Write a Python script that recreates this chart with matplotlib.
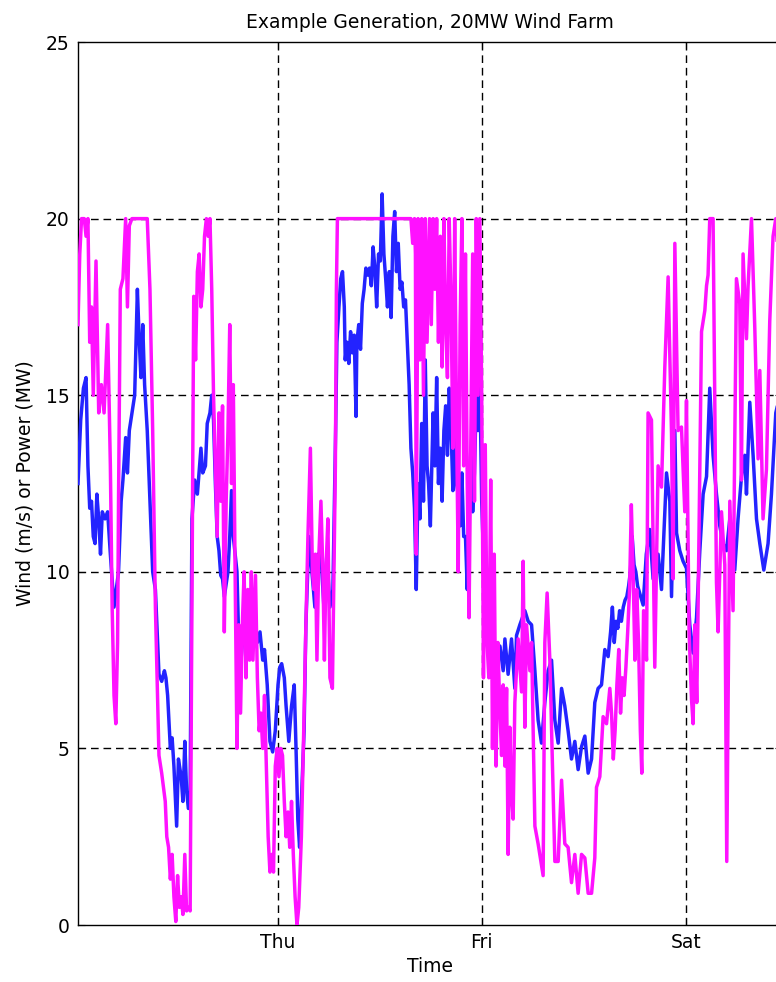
import numpy as np
import matplotlib
matplotlib.use("Agg")
import matplotlib.pyplot as plt

# hours since Wed 00:00
wind_hours = [0.47, 0.79, 1.11, 1.42, 1.64, 1.85, 2.06, 2.27, 2.48, 2.69, 2.91, 3.12, 3.33, 3.65, 3.96,
              4.28, 4.71, 5.24, 5.55, 5.76, 6.08, 6.29, 6.51, 6.82, 7.14, 7.46, 7.67, 7.88, 8.09, 8.31,
              8.62, 8.94, 9.26, 9.58, 10.0, 10.32, 10.64, 10.82, 11.02, 11.34, 11.55, 11.76, 12.08, 12.29,
              12.61, 12.82, 13.04, 13.25, 13.46, 13.67, 13.88, 14.2, 14.52, 14.94, 15.15, 15.47, 15.68,
              16.0, 16.21, 16.42, 16.64, 16.85, 17.06, 17.27, 17.48, 17.69, 18.12, 18.33, 18.54, 18.75,
              19.18, 19.39, 19.6, 19.92, 20.24, 20.55, 20.87, 21.26, 21.58, 21.89, 22.21, 22.42, 22.74,
              23.06, 23.38, 23.69, 24.01, 24.22, 24.44, 24.75, 24.96, 25.28, 25.6, 25.92, 26.13, 26.34,
              26.55, 26.76, 27.08, 27.29, 27.65, 28.0, 28.35, 28.71, 29.06, 29.41, 29.76, 30.12, 30.47,
              30.79, 30.94, 31.18, 31.39, 31.6, 31.81, 31.92, 32.13, 32.34, 32.55, 32.76, 32.98, 33.19,
              33.29, 33.51, 33.72, 33.93, 34.14, 34.35, 34.56, 34.78, 34.99, 35.2, 35.41, 35.62, 35.84,
              36.05, 36.26, 36.47, 36.68, 36.89, 37.11, 37.32, 37.53, 37.74, 37.95, 38.16, 38.38, 38.59,
              38.8, 39.01, 39.22, 39.44, 39.65, 39.86, 40.07, 40.28, 40.49, 40.71, 40.92, 41.13, 41.34,
              41.55, 41.73, 41.94, 42.26, 42.47, 42.68, 42.89, 43.11, 43.32, 43.53, 43.74, 43.95, 44.16,
              44.38, 44.59, 44.8, 45.01, 45.22, 45.44, 45.65, 45.86, 46.07, 46.28, 46.49, 46.71, 46.92,
              47.13, 47.34, 47.55, 47.76, 47.98, 48.29, 48.61, 48.82, 49.04, 49.25, 49.46, 49.67, 49.88,
              50.12, 50.51, 50.71, 51.09, 51.49, 51.88, 52.08, 52.47, 53.06, 53.45, 53.85, 54.24, 54.62,
              55.02, 55.41, 55.8, 56.2, 56.59, 56.98, 57.38, 57.76, 58.15, 58.55, 58.94, 59.33, 59.73,
              60.12, 60.51, 60.91, 61.29, 61.68, 62.08, 62.47, 62.86, 63.15, 63.36, 63.58, 63.79, 64.0,
              64.21, 64.42, 64.64, 64.85, 65.06, 65.27, 65.48, 65.69, 65.91, 66.12, 66.33, 66.98, 67.35,
              67.76, 68.15, 68.74, 69.14, 69.73, 70.12, 70.32, 70.71, 70.91, 71.29, 71.68, 72.08, 72.47,
              72.86, 73.26, 73.65, 74.04, 74.44, 74.82, 75.21, 75.61, 76.0, 76.39, 76.79, 77.18, 77.76,
              78.15, 78.55, 78.94, 79.14, 79.53, 79.92, 80.32, 80.71, 81.18, 81.68, 82.08, 82.59, 83.06]
wind_ms = [12.5, 14.3, 15.2, 15.5, 13.0, 11.8, 12.0, 11.0, 10.8, 12.2, 11.5, 10.5, 11.7, 11.5, 11.7,
           10.5, 9.0, 10.0, 12.0, 12.6, 13.8, 12.8, 14.0, 14.5, 15.0, 18.0, 16.6, 15.5, 17.0, 15.3,
           14.0, 12.0, 10.0, 9.5, 7.1, 6.9, 7.2, 7.0, 6.5, 5.0, 5.3, 4.5, 2.8, 4.7,
           4.2, 3.5, 5.2, 3.8, 3.3, 3.8, 11.5, 12.6, 12.2, 13.5, 12.8, 13.0, 14.2,
           14.5, 15.0, 14.3, 12.5, 11.0, 10.6, 9.9, 9.8, 9.3, 10.0, 11.0, 12.3, 11.0,
           10.0, 8.0, 7.3, 8.4, 9.2, 8.8, 8.9, 8.5, 8.0, 8.3, 7.5, 7.8, 6.8,
           5.2, 4.9, 5.5, 6.8, 7.3, 7.4, 7.0, 6.2, 5.2, 6.2, 6.8, 5.0, 3.0,
           2.2, 3.5, 5.5, 8.5, 11.0, 10.0, 9.0, 10.5, 10.5, 9.0, 10.5, 9.0, 9.5,
           14.0, 16.5, 17.5, 18.3, 18.5, 17.5, 16.0, 16.5, 15.9, 16.8, 16.2, 16.7, 14.4,
           16.5, 17.0, 16.3, 17.6, 18.0, 18.6, 18.4, 18.6, 18.1, 19.2, 18.6, 17.5, 19.0,
           18.8, 20.7, 19.0, 18.3, 17.5, 18.5, 17.2, 19.5, 20.2, 18.5, 19.3, 18.0, 18.2,
           17.5, 17.7, 16.5, 15.3, 13.5, 12.8, 11.8, 9.5, 12.5, 11.5, 14.2, 12.0, 16.0,
           13.0, 12.5, 11.3, 14.5, 13.0, 15.5, 12.5, 13.5, 12.0, 14.0, 14.7, 13.3, 15.2,
           14.0, 12.3, 14.8, 12.5, 12.2, 11.3, 12.8, 11.0, 11.0, 9.5, 12.2, 13.5, 11.7,
           12.8, 15.0, 14.0, 15.5, 12.0, 9.7, 8.5, 8.2, 7.2, 7.5, 8.0, 7.2, 7.8,
           7.9, 7.2, 8.1, 7.1, 8.1, 6.7, 8.2, 8.5, 8.9, 8.6, 8.5, 7.2, 5.8,
           5.15, 6.3, 7.2, 7.5, 5.8, 5.15, 6.7, 6.2, 5.5, 4.7, 5.2, 4.4, 5.05,
           5.35, 4.3, 4.7, 6.3, 6.7, 6.8, 7.8, 7.6, 8.3, 9.0, 8.0, 8.6, 8.4,
           8.9, 8.6, 9.0, 9.2, 9.3, 9.6, 10.0, 11.0, 10.2, 10.0, 9.6, 9.06, 10.5,
           11.2, 9.8, 10.5, 9.5, 12.8, 12.0, 9.3, 14.0, 11.1, 10.6, 10.3, 10.1, 8.5,
           7.7, 8.7, 10.6, 12.2, 12.7, 15.2, 13.3, 12.2, 11.3, 10.8, 10.6, 11.5, 10.05,
           11.5, 12.7, 13.3, 12.2, 14.8, 13.3, 11.5, 10.8, 10.05, 10.8, 12.2, 14.5, 15.0]

power_hours = [0.47, 0.68, 0.89, 1.21, 1.42, 1.64, 1.85, 2.06, 2.27, 2.59, 2.91, 3.22, 3.54, 3.96, 4.28,
               4.49, 4.71, 4.92, 5.13, 5.24, 5.45, 5.76, 6.08, 6.29, 6.51, 6.82, 8.62, 8.94, 9.26, 9.58,
               10.0, 10.32, 10.74, 10.92, 11.13, 11.34, 11.55, 11.76, 11.98, 12.19, 12.4, 12.61, 12.82,
               13.04, 13.25, 13.46, 13.67, 13.88, 14.09, 14.31, 14.52, 14.73, 14.94, 15.15, 15.36, 15.58,
               15.79, 16.0, 16.21, 16.42, 16.64, 16.85, 17.06, 17.27, 17.48, 17.69, 17.91, 18.12, 18.33,
               18.54, 18.75, 18.96, 19.18, 19.39, 19.6, 19.81, 20.02, 20.24, 20.45, 20.66, 20.87, 21.06,
               21.36, 21.58, 21.79, 22.0, 22.21, 22.42, 22.64, 22.85, 23.06, 23.27, 23.48, 23.69, 23.91,
               24.12, 24.33, 24.54, 24.75, 24.96, 25.18, 25.39, 25.6, 25.81, 26.02, 26.24, 26.45, 26.76,
               27.08, 27.29, 27.53, 27.82, 28.06, 28.24, 28.41, 28.59, 28.82, 29.06, 29.29, 29.47, 29.65,
               29.88, 30.12, 30.41, 30.59, 30.76, 30.88, 31.0, 39.65, 39.86, 40.07, 40.18, 40.28, 40.49,
               40.71, 40.92, 41.13, 41.34, 41.55, 41.84, 42.05, 42.26, 42.47, 42.68, 42.89, 43.11, 43.32,
               43.53, 43.74, 43.95, 44.16, 44.38, 44.59, 44.8, 45.01, 45.22, 45.44, 45.65, 45.86, 46.07,
               46.28, 46.49, 46.71, 46.92, 47.13, 47.34, 47.55, 47.76, 47.98, 48.19, 48.4, 48.61, 48.82,
               49.04, 49.25, 49.46, 49.67, 49.88, 50.12, 50.32, 50.51, 50.71, 50.91, 51.09, 51.29, 51.49,
               51.68, 51.88, 52.27, 52.67, 52.86, 53.06, 53.26, 53.65, 53.85, 54.24, 54.62, 54.82, 55.21,
               55.41, 55.68, 56.0, 56.39, 56.59, 56.98, 57.38, 57.76, 58.15, 58.55, 58.94, 59.33, 59.73,
               60.12, 60.51, 60.91, 61.29, 61.49, 61.88, 62.27, 62.67, 63.06, 63.26, 63.47, 63.68, 63.89,
               64.11, 64.32, 64.53, 64.74, 64.95, 65.16, 65.38, 65.59, 65.8, 66.01, 66.22, 66.44, 66.65,
               66.82, 67.03, 67.38, 67.56, 67.96, 68.35, 68.74, 69.14, 69.53, 69.92, 70.32, 70.51, 70.71,
               71.09, 71.49, 71.88, 72.08, 72.39, 72.67, 72.86, 73.06, 73.29, 73.45, 73.85, 74.24, 74.44,
               74.62, 74.82, 75.21, 75.41, 75.61, 75.8, 76.2, 76.59, 76.82, 77.18, 77.56, 77.96, 78.35,
               78.55, 78.74, 79.14, 79.33, 79.73, 80.12, 80.51, 80.71, 81.09, 81.49, 81.88, 82.27, 82.59,
               83.06]
power_mw = [17.0, 19.0, 20.0, 20.0, 19.5, 20.0, 16.5, 17.5, 15.0, 18.8, 14.5, 15.3, 14.5, 17.0, 13.0,
            9.0, 6.5, 5.7, 8.0, 12.0, 18.0, 18.3, 20.0, 17.5, 19.8, 20.0, 20.0, 18.0, 14.0, 9.0,
            4.8, 4.3, 3.5, 2.5, 2.2, 1.3, 2.0, 0.8, 0.1, 1.4, 0.5, 0.8, 0.3,
            2.0, 0.4, 0.5, 0.4, 9.0, 17.8, 16.0, 18.5, 19.0, 17.5, 18.0, 19.5, 20.0,
            19.5, 20.0, 18.0, 15.0, 13.0, 11.0, 14.5, 12.0, 14.7, 8.3, 12.0, 14.0, 17.0,
            12.5, 15.3, 10.0, 5.0, 8.5, 6.0, 8.5, 10.0, 7.0, 9.5, 7.5, 10.0, 7.5,
            9.9, 7.0, 5.5, 6.0, 5.0, 6.5, 4.5, 2.5, 1.5, 2.0, 1.5, 4.5, 5.0,
            4.2, 5.0, 4.8, 3.5, 2.5, 3.2, 2.2, 3.5, 2.0, 0.8, 0.0, 0.5, 2.5,
            6.0, 8.5, 11.0, 13.5, 10.0, 9.5, 10.5, 7.5, 10.5, 12.0, 10.0, 7.5, 10.0,
            11.5, 7.0, 6.7, 10.0, 13.0, 18.0, 20.0, 20.0, 19.3, 20.0, 19.0, 10.5, 20.0,
            16.0, 20.0, 15.0, 20.0, 16.5, 20.0, 17.0, 20.0, 18.0, 20.0, 16.5, 19.5, 15.8,
            20.0, 17.0, 15.5, 20.0, 17.5, 13.5, 20.0, 14.5, 10.0, 17.0, 20.0, 13.0, 19.0,
            12.5, 8.7, 14.0, 19.0, 12.0, 20.0, 15.0, 20.0, 15.0, 7.0, 13.6, 8.0, 7.0,
            12.6, 5.0, 10.5, 4.5, 8.0, 6.1, 4.8, 6.8, 4.5, 6.7, 2.0, 5.6, 3.7,
            3.0, 6.3, 8.1, 6.6, 10.3, 5.6, 8.5, 7.2, 8.0, 2.8, 2.3, 2.0, 1.4,
            8.0, 9.4, 7.5, 3.7, 1.8, 1.8, 4.1, 2.3, 2.2, 1.2, 2.0, 0.9, 2.0,
            1.9, 0.9, 0.9, 1.9, 3.9, 4.2, 5.9, 5.7, 6.7, 6.0, 4.7, 5.5, 6.8,
            7.8, 6.0, 7.0, 6.5, 7.3, 8.3, 9.5, 11.9, 10.0, 7.5, 9.5, 8.0, 5.5,
            4.3, 8.9, 7.5, 14.5, 14.3, 7.3, 13.0, 12.4, 15.8, 18.35, 13.9, 9.8, 19.3,
            14.0, 14.1, 11.7, 14.85, 8.3, 6.4, 5.7, 8.5, 6.3, 9.1, 16.8, 17.4, 18.1,
            18.4, 20.0, 20.0, 14.9, 9.7, 8.3, 11.7, 10.2, 1.8, 12.0, 8.9, 18.3, 17.6,
            12.6, 19.0, 16.6, 18.1, 20.0, 16.9, 13.2, 15.7, 11.5, 12.9, 17.1, 19.5, 20.0,
            18.0]

day_ticks = [24, 48, 72]
day_labels = ["Thu", "Fri", "Sat"]
y_ticks = [0, 5, 10, 15, 20, 25]

plt.rcParams["font.family"] = ["DejaVu Sans"]
fig = plt.figure(figsize=(7.76, 9.82), dpi=100)
ax = fig.add_axes([0.1005, 0.058, 0.907, 0.8992])

ax.plot(wind_hours, wind_ms, color="#2323ff", lw=2.5, zorder=3)
ax.plot(power_hours, power_mw, color="#ff11ff", lw=2.5, zorder=4)

ax.set_xlim(0.47, 83.3)
ax.set_ylim(0, 25)
ax.set_xticks(day_ticks)
ax.set_xticklabels(day_labels)
ax.set_yticks(y_ticks)

for v in day_ticks:
    ax.axvline(v, color="black", lw=1.0, ls=(0, (5.5, 3.5)), zorder=2)
for v in y_ticks[1:-1]:
    ax.axhline(v, color="black", lw=1.0, ls=(0, (5.5, 3.5)), zorder=2)

ax.tick_params(direction="in", length=5, width=0.8, labelsize=13.5, pad=6,
               top=True, right=True)
for s in ax.spines.values():
    s.set_linewidth(1.0)

ax.set_title("Example Generation, 20MW Wind Farm", fontsize=13.5, pad=10)
ax.set_xlabel("Time", fontsize=13.5, labelpad=3)
ax.set_ylabel("Wind (m/s) or Power (MW)", fontsize=13.5, labelpad=8)

fig.savefig("out.png", dpi=100)
